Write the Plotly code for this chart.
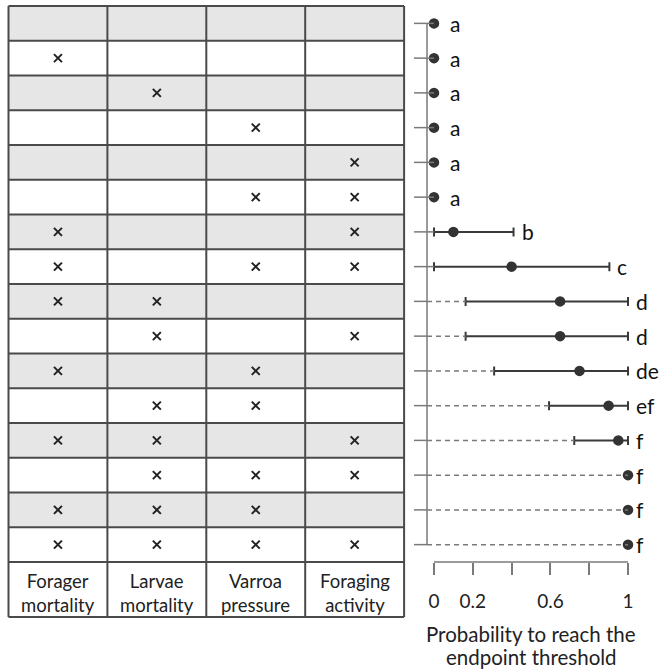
import plotly.graph_objects as go

# ---------------- data ----------------
factors = ["Forager mortality", "Larvae mortality", "Varroa pressure", "Foraging activity"]
forager_mortality = [0, 1, 0, 0, 0, 0, 1, 1, 1, 0, 1, 0, 1, 0, 1, 1]
larvae_mortality  = [0, 0, 1, 0, 0, 0, 0, 0, 1, 1, 0, 1, 1, 1, 1, 1]
varroa_pressure   = [0, 0, 0, 1, 0, 1, 0, 1, 0, 0, 1, 1, 0, 1, 1, 1]
foraging_activity = [0, 0, 0, 0, 1, 1, 1, 1, 0, 1, 0, 0, 1, 1, 0, 1]

prob_mean  = [0, 0, 0, 0, 0, 0, 0.10, 0.40, 0.65, 0.65, 0.75, 0.90, 0.95, 1.0, 1.0, 1.0]
prob_lower = [None, None, None, None, None, None, 0.0, 0.0, 0.163, 0.163, 0.31, 0.593, 0.723, None, None, None]
prob_upper = [None, None, None, None, None, None, 0.41, 0.904, 1.0, 1.0, 1.0, 1.0, 1.0, None, None, None]
letters = ["a", "a", "a", "a", "a", "a", "b", "c", "d", "d", "de", "ef", "f", "f", "f", "f"]

tick_vals = [0, 0.2, 0.4, 0.6, 0.8, 1.0]
tick_text = ["0", "0.2", "", "0.6", "", "1"]
x_title_lines = ["Probability to reach the", "endpoint threshold"]

# ---------------- layout helpers (pixel geometry) ----------------
W, H = 661, 671
ROW_H = 34.75
TOP = 6.0
def py(px):  # pixel y -> row units
    return (px - TOP) / ROW_H - 0.5

X0_PX, X1_PX = 434.0, 628.0
SCALE = (X1_PX - X0_PX)
COL_W = 98.9
TBL_LEFT = 8.5

FONT = "Lato, Open Sans, sans-serif"
n = len(prob_mean)
rows = list(range(n))
cols = [forager_mortality, larvae_mortality, varroa_pressure, foraging_activity]

fig = go.Figure()
shapes = []
annotations = []

# table shading
for i in rows:
    if i % 2 == 0:
        shapes.append(dict(type="rect", xref="x2", yref="y", x0=0, x1=4, y0=i - 0.5, y1=i + 0.5,
                           fillcolor="#e6e6e6", line=dict(width=0), layer="below"))
label_bottom = py(617)
# table grid
grid_col = "#4a4a4a"
for k in range(n + 1):
    shapes.append(dict(type="line", xref="x2", yref="y", x0=0, x1=4, y0=k - 0.5, y1=k - 0.5,
                       line=dict(color=grid_col, width=2)))
shapes.append(dict(type="line", xref="x2", yref="y", x0=0, x1=4, y0=label_bottom, y1=label_bottom,
                   line=dict(color=grid_col, width=2)))
for j in range(5):
    shapes.append(dict(type="line", xref="x2", yref="y", x0=j, x1=j, y0=-0.5, y1=label_bottom,
                       line=dict(color=grid_col, width=2)))

# crosses
cx, cy = [], []
for j, col in enumerate(cols):
    for i, v in enumerate(col):
        if v:
            cx.append(j + 0.5)
            cy.append(i)
fig.add_trace(go.Scatter(x=cx, y=cy, xaxis="x2", yaxis="y", mode="markers",
                         marker=dict(symbol="x-thin", size=8, line=dict(width=2, color="#222222")),
                         hoverinfo="skip", showlegend=False))

# column labels
for j, lab in enumerate(factors):
    annotations.append(dict(xref="x2", yref="y", x=j + 0.5, y=py(593), text=lab.replace(" ", "<br>"),
                            showarrow=False, font=dict(size=18.5, color="#222")))

# probability panel: axis line, ticks
axis_x = (427 - X0_PX) / SCALE
tick_left = (414 - X0_PX) / SCALE
axis_gray = "#7a7a7a"
shapes.append(dict(type="line", xref="x", yref="y", x0=axis_x, x1=axis_x, y0=0, y1=n - 1,
                   line=dict(color=axis_gray, width=1.5)))
shapes.append(dict(type="line", xref="x", yref="y", x0=0, x1=1, y0=n - 0.5, y1=n - 0.5,
                   line=dict(color=axis_gray, width=1.5)))
for i in rows:
    lo = prob_lower[i]
    start = prob_mean[i] if lo is None else lo
    if start <= 0.05:
        shapes.append(dict(type="line", xref="x", yref="y", x0=tick_left, x1=start, y0=i, y1=i,
                           line=dict(color=axis_gray, width=1.5)))
    else:
        shapes.append(dict(type="line", xref="x", yref="y", x0=tick_left, x1=axis_x, y0=i, y1=i,
                           line=dict(color=axis_gray, width=1.5)))
        shapes.append(dict(type="line", xref="x", yref="y", x0=axis_x, x1=start, y0=i, y1=i,
                           line=dict(color=axis_gray, width=1.5, dash="5px,4px")))

# error-bar points
ei = [i for i in rows if prob_lower[i] is not None]
fig.add_trace(go.Scatter(
    x=[prob_mean[i] for i in ei], y=ei, mode="markers",
    marker=dict(size=10.5, color="#333333"),
    error_x=dict(type="data", symmetric=False,
                 array=[prob_upper[i] - prob_mean[i] for i in ei],
                 arrayminus=[prob_mean[i] - prob_lower[i] for i in ei],
                 color="#3a3a3a", thickness=2, width=4.5),
    hoverinfo="skip", showlegend=False))
ni = [i for i in rows if prob_lower[i] is None]
fig.add_trace(go.Scatter(x=[prob_mean[i] for i in ni], y=ni, mode="markers",
                         marker=dict(size=10.5, color="#333333"), cliponaxis=False,
                         hoverinfo="skip", showlegend=False))

# letters
for i in rows:
    right = prob_mean[i] if prob_upper[i] is None else max(prob_upper[i], prob_mean[i])
    shift = 14 if (prob_upper[i] is None and prob_mean[i] == 0) else 6
    annotations.append(dict(xref="x", yref="y", x=right, y=i, text=letters[i], showarrow=False,
                            xanchor="left", xshift=shift, font=dict(size=21, color="#111")))

# x title
for line_text, ypx in zip(x_title_lines, [634, 657]):
    annotations.append(dict(xref="x", yref="y", x=0.5, y=py(ypx), text=line_text, showarrow=False,
                            font=dict(size=20.5, color="#222")))

fig.update_layout(
    width=W, height=H, margin=dict(l=0, r=0, t=0, b=0),
    paper_bgcolor="white", plot_bgcolor="white",
    font=dict(family=FONT, color="#222"),
    shapes=shapes, annotations=annotations,
    xaxis=dict(range=[-X0_PX / SCALE, (W - X0_PX) / SCALE], domain=[0, 1],
               anchor="free", position=1 - 562 / H,
               showgrid=False, zeroline=False, showline=False,
               tickmode="array", tickvals=tick_vals, ticktext=tick_text,
               ticks="outside", ticklen=12, tickwidth=1.5, tickcolor=axis_gray,
               ticklabelstandoff=10,
               tickfont=dict(size=19, color="#222")),
    xaxis2=dict(range=[-TBL_LEFT / COL_W, (W - TBL_LEFT) / COL_W], overlaying="x",
                visible=False),
    yaxis=dict(range=[py(H), py(0)], domain=[0, 1], visible=False),
)

fig.write_html("out.html", config={"displayModeBar": False},
               post_script="document.body.style.margin='0px';document.body.style.padding='0px';")
